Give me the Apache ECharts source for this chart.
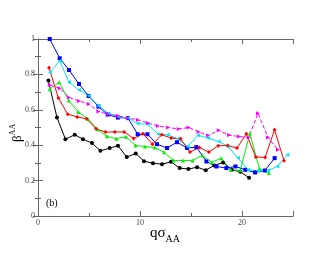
<!DOCTYPE html>
<html><head><meta charset="utf-8">
<script src="https://cdn.jsdelivr.net/npm/echarts@6/dist/echarts.min.js"></script>
<style>html,body{margin:0;padding:0;background:#fff}#c{width:330px;height:255px}</style>
</head><body><div id="c"></div>
<script>
const blackX=[1.02,1.86,2.69,3.60,4.41,5.29,6.12,7.03,7.84,8.70,9.58,10.39,11.27,12.16,13.04,13.89,14.75,15.59,16.44,17.29,18.14,18.99,19.84,20.69];
const blackY=[0.765,0.556,0.434,0.459,0.434,0.412,0.368,0.384,0.397,0.333,0.353,0.310,0.298,0.293,0.306,0.271,0.265,0.276,0.259,0.286,0.302,0.261,0.250,0.216];
const redX=[1.08,2.00,2.92,3.84,4.76,5.69,6.61,7.53,8.45,9.37,10.29,11.22,12.14,13.06,13.98,14.90,15.82,16.75,17.67,18.59,19.51,20.43,21.35,22.27,23.19,24.12];
const redY=[0.838,0.666,0.575,0.560,0.549,0.493,0.474,0.475,0.475,0.438,0.464,0.406,0.459,0.440,0.436,0.361,0.387,0.361,0.397,0.398,0.384,0.464,0.333,0.331,0.487,0.312];
const greenX=[1.15,2.08,3.02,3.95,4.88,5.82,6.75,7.69,8.62,9.56,10.49,11.42,12.36,13.29,14.23,15.16,16.10,17.03,17.96,18.90,19.83,20.77,21.70,22.64];
const greenY=[0.716,0.756,0.652,0.588,0.550,0.490,0.450,0.437,0.448,0.398,0.393,0.387,0.360,0.314,0.314,0.314,0.343,0.304,0.326,0.261,0.258,0.466,0.268,0.243];
const blueX=[1.15,2.13,3.04,4.02,4.97,5.92,6.83,7.84,8.82,9.77,10.73,11.67,12.65,13.63,14.61,15.53,16.51,17.49,18.47,19.36,20.32,21.28,22.24,23.20];
const blueY=[1.000,0.891,0.825,0.746,0.678,0.618,0.573,0.556,0.553,0.462,0.462,0.406,0.384,0.417,0.384,0.389,0.308,0.280,0.271,0.280,0.261,0.246,0.257,0.327];
const cyanX=[1.15,2.13,3.04,4.02,4.97,5.92,6.90,7.84,8.82,9.77,10.75,11.80,12.72,13.70,14.68,15.69,16.67,17.72,18.63,19.61,20.59,21.57,22.55,23.47,24.45];
const cyanY=[0.812,0.876,0.756,0.712,0.679,0.622,0.581,0.562,0.553,0.523,0.518,0.462,0.459,0.436,0.393,0.456,0.440,0.421,0.393,0.327,0.261,0.256,0.257,0.280,0.346];
const magentaX=[1.15,2.13,3.04,4.02,4.97,5.92,6.90,7.84,8.82,9.80,10.78,11.76,12.75,13.79,14.77,15.75,16.66,17.72,18.73,19.71,20.66,21.57,22.55,23.53];
const magentaY=[0.740,0.722,0.669,0.650,0.633,0.590,0.575,0.566,0.554,0.543,0.525,0.509,0.500,0.492,0.500,0.475,0.455,0.484,0.457,0.449,0.443,0.581,0.444,0.374];
const xLabels=[0,10,20];
const yLabels=['0','0.2','0.4','0.6','0.8','1'];

const zip=(xs,ys)=>xs.map((x,i)=>[x,ys[i]]);
const FONT='Liberation Serif';
const AX='#666';
function xAx(pos,interval,len,labels){
  return {type:'value',min:0,max:25,interval:interval,position:pos,gridIndex:0,
    axisLine:{show:true,lineStyle:{color:AX,width:1}},
    axisTick:{show:true,inside:true,length:len,lineStyle:{color:AX,width:1}},
    axisLabel:{show:labels,margin:3,fontFamily:FONT,fontSize:8,color:'#444',
      formatter:v=>xLabels.indexOf(v)>=0?String(v):''},
    splitLine:{show:false}};
}
function yAx(pos,labels){
  return {type:'value',min:0,max:1,interval:0.2,position:pos,gridIndex:0,
    axisLine:{show:true,lineStyle:{color:AX,width:1}},
    axisTick:{show:true,inside:true,length:5,lineStyle:{color:AX,width:1}},
    minorTick:{show:true,splitNumber:2,length:3,lineStyle:{color:AX,width:1}},
    axisLabel:{show:labels,margin:3,fontFamily:FONT,fontSize:8,color:'#444',
      formatter:v=>yLabels[Math.round(v/0.2)]},
    splitLine:{show:false}};
}
function ser(name,xs,ys,color,symbol,size,rot,dashed){
  return {name:name,type:'line',xAxisIndex:0,yAxisIndex:0,data:zip(xs,ys),
    symbol:symbol,symbolSize:size,symbolRotate:rot||0,showSymbol:true,
    lineStyle:{color:color,width:1,type:dashed?[4,2]:'solid'},
    itemStyle:{color:color},animation:false,silent:true};
}
const chart=echarts.init(document.getElementById('c'),null,{renderer:'canvas'});
chart.setOption({
  backgroundColor:'#fff',animation:false,
  grid:{left:38,top:39,width:255,height:177},
  xAxis:[xAx('bottom',5,3,true),xAx('bottom',10,5,false),xAx('top',5,3,false),xAx('top',10,5,false)],
  yAxis:[yAx('left',true),yAx('right',false)],
  series:[
    ser('black',blackX,blackY,'#000000','circle',4),
    ser('green',greenX,greenY,'#00ee00','triangle',4),
    ser('blue',blueX,blueY,'#0000ff','rect',4),
    ser('cyan',cyanX,cyanY,'#00e5ee','triangle',4,90),
    ser('red',redX,redY,'#ff0000','diamond',4),
    ser('magenta',magentaX,magentaY,'#ff00ff','triangle',4,-90,true)
  ],
  graphic:[
    {type:'text',x:46,y:198,style:{text:'(b)',font:'10px "Liberation Serif"',fill:'#000'}},
    {type:'text',x:150,y:224,style:{text:'{q|qσ}{s|AA}',rich:{
      q:{fontFamily:FONT,fontSize:15,fill:'#000',lineHeight:17,verticalAlign:'bottom'},
      s:{fontFamily:FONT,fontSize:10,fill:'#000',lineHeight:17,verticalAlign:'bottom',padding:[0,0,-3,0]}}}},
    {type:'text',x:9,y:142,rotation:Math.PI/2,style:{text:'{b|β}{s|AA}',rich:{
      b:{fontFamily:FONT,fontSize:13,fill:'#000',lineHeight:15,verticalAlign:'bottom'},
      s:{fontFamily:FONT,fontSize:8,fill:'#000',lineHeight:15,verticalAlign:'top'}}}}
  ]
});
</script></body></html>
